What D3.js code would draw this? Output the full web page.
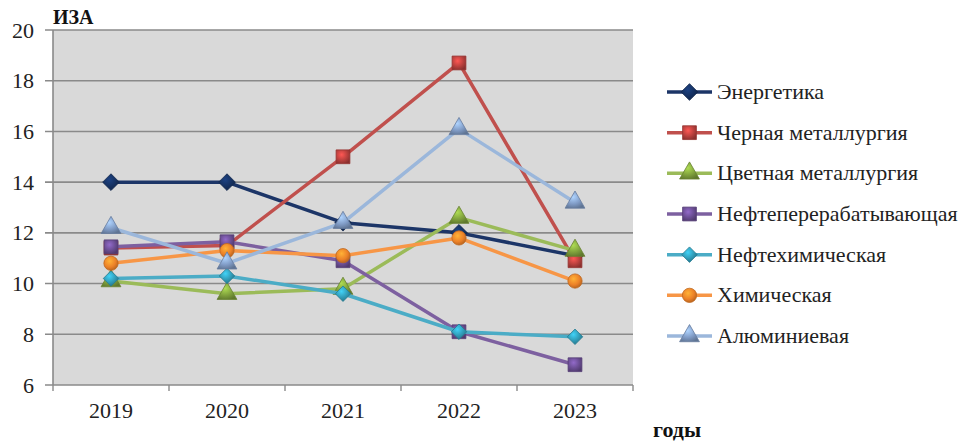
<!DOCTYPE html>
<html>
<head>
<meta charset="utf-8">
<script src="https://cdn.jsdelivr.net/npm/d3@7/dist/d3.min.js"></script>
<style>
  html, body { margin: 0; padding: 0; background: #fff; }
  svg { display: block; }
  svg text { font-family: "Liberation Serif", "Times New Roman", "DejaVu Serif", serif; }
</style>
</head>
<body>
<svg id="chart" width="964" height="441"></svg>
<script>
// Years on the horizontal axis
const years = ["2019", "2020", "2021", "2022", "2023"];
// Y-axis ticks
const yTicks = [6, 8, 10, 12, 14, 16, 18, 20];

// Series names (legend order)
const seriesNames = [
  "Энергетика",
  "Черная металлургия",
  "Цветная металлургия",
  "Нефтеперерабатывающая",
  "Нефтехимическая",
  "Химическая",
  "Алюминиевая"
];

// Series values per year
const energetika   = [14.0, 14.0, 12.4, 12.0, 11.1];
const chernaya     = [11.4, 11.5, 15.0, 18.7, 10.9];
const tsvetnaya    = [10.1, 9.6, 9.8, 12.6, 11.3];
const neftepererab = [11.45, 11.65, 10.9, 8.1, 6.8];
const neftekhim    = [10.2, 10.3, 9.6, 8.1, 7.9];
const khimicheskaya = [10.8, 11.3, 11.1, 11.8, 10.1];
const alyuminievaya = [12.2, 10.8, 12.4, 16.1, 13.2];

const seriesValues = [energetika, chernaya, tsvetnaya, neftepererab, neftekhim, khimicheskaya, alyuminievaya];

const FONT = '"Liberation Serif", "Times New Roman", "DejaVu Serif", serif';

// Styling per series
const lineColors   = ["#1c3567", "#c0504d", "#9bbb59", "#7d60a0", "#4bacc6", "#f79646", "#9bb7db"];
const markerColors = ["#15305f", "#b8403d", "#7fa03c", "#6a4d92", "#2f98b3", "#ec8128", "#7f9ac4"];

// Rotated square (equal width/height diamond)
const diamondSq = {
  draw(ctx, size) {
    const r = Math.sqrt(size / 2);
    ctx.moveTo(0, -r); ctx.lineTo(r, 0); ctx.lineTo(0, r); ctx.lineTo(-r, 0); ctx.closePath();
  }
};
const markerShapes = [diamondSq, d3.symbolSquare, d3.symbolTriangle, d3.symbolSquare, diamondSq, d3.symbolCircle, d3.symbolTriangle];
const markerSizes  = [140, 190, 170, 190, 120, 160, 170];

const svg = d3.select("#chart");
const margin = { left: 53, top: 30, right: 331, bottom: 56 };
const W = 964, H = 441;
const plotW = W - margin.left - margin.right;
const plotH = H - margin.top - margin.bottom;

const x = d3.scaleBand().domain(years).range([margin.left, margin.left + plotW]);
const y = d3.scaleLinear().domain([6, 20]).range([margin.top + plotH, margin.top]);

// Gradients for the shaded markers
const defs = svg.append("defs");
markerColors.forEach((c, i) => {
  const g = defs.append("radialGradient").attr("id", "mg" + i)
    .attr("cx", "40%").attr("cy", "35%").attr("r", "70%");
  g.append("stop").attr("offset", "0%").attr("stop-color", d3.color(c).brighter(0.9));
  g.append("stop").attr("offset", "60%").attr("stop-color", c);
  g.append("stop").attr("offset", "100%").attr("stop-color", d3.color(c).darker(0.8));
});

// Plot background
svg.append("rect")
  .attr("x", margin.left).attr("y", margin.top)
  .attr("width", plotW).attr("height", plotH)
  .attr("fill", "#d9d9d9");

// Horizontal gridlines with left ticks
svg.append("g").selectAll("line").data(yTicks).join("line")
  .attr("x1", margin.left - 8).attr("x2", margin.left + plotW)
  .attr("y1", d => y(d)).attr("y2", d => y(d))
  .attr("stroke", "#8a8a8a").attr("stroke-width", 1.6);

// Y tick labels
svg.append("g").selectAll("text").data(yTicks).join("text")
  .attr("x", 34).attr("y", d => y(d) + 7.5)
  .attr("text-anchor", "end")
  .attr("font-family", FONT)
  .attr("font-size", 22).attr("fill", "#222")
  .text(d => d);

// Axis line
svg.append("line")
  .attr("x1", margin.left).attr("x2", margin.left)
  .attr("y1", margin.top).attr("y2", margin.top + plotH)
  .attr("stroke", "#8a8a8a").attr("stroke-width", 1.6);

// Category boundary ticks under the x axis
const bounds = years.map(d => x(d)).concat([x(years[years.length - 1]) + x.bandwidth()]);
svg.append("g").selectAll("line").data(bounds).join("line")
  .attr("x1", d => d).attr("x2", d => d)
  .attr("y1", margin.top + plotH).attr("y2", margin.top + plotH + 6)
  .attr("stroke", "#8a8a8a").attr("stroke-width", 1.4);

// X tick labels
svg.append("g").selectAll("text").data(years).join("text")
  .attr("x", d => x(d) + x.bandwidth() / 2).attr("y", 418)
  .attr("text-anchor", "middle")
  .attr("font-family", FONT)
  .attr("font-size", 22).attr("fill", "#222")
  .text(d => d);

// Series lines and markers
const line = d3.line()
  .x((d, i) => x(years[i]) + x.bandwidth() / 2)
  .y(d => y(d));

seriesValues.forEach((vals, i) => {
  const g = svg.append("g");
  g.append("path")
    .attr("d", line(vals))
    .attr("fill", "none")
    .attr("stroke", lineColors[i])
    .attr("stroke-width", 3.5)
    .attr("stroke-linejoin", "round");
  const sym = d3.symbol().type(markerShapes[i]).size(markerSizes[i]);
  g.selectAll("path.m").data(vals).join("path")
    .attr("class", "m")
    .attr("d", sym)
    .attr("transform", (d, k) => `translate(${x(years[k]) + x.bandwidth() / 2},${y(d)})`)
    .attr("fill", `url(#mg${i})`)
    .attr("stroke", d3.color(markerColors[i]).darker(0.6))
    .attr("stroke-width", 0.8);
});

// Axis titles
svg.append("text")
  .attr("x", 53).attr("y", 24)
  .attr("font-family", FONT)
  .attr("font-size", 20).attr("font-weight", "bold").attr("fill", "#111")
  .text("ИЗА");
svg.append("text")
  .attr("x", 653).attr("y", 437)
  .attr("font-family", FONT)
  .attr("font-size", 22).attr("font-weight", "bold").attr("fill", "#111")
  .text("годы");

// Legend
const legendY = d3.scaleLinear().domain([0, seriesNames.length - 1]).range([92, 336]);
const legend = svg.append("g");
seriesNames.forEach((name, i) => {
  const ly = legendY(i);
  legend.append("line")
    .attr("x1", 667).attr("x2", 712)
    .attr("y1", ly).attr("y2", ly)
    .attr("stroke", lineColors[i]).attr("stroke-width", 3.5);
  legend.append("path")
    .attr("d", d3.symbol().type(markerShapes[i]).size(markerSizes[i])())
    .attr("transform", `translate(689.5,${ly})`)
    .attr("fill", `url(#mg${i})`)
    .attr("stroke", d3.color(markerColors[i]).darker(0.6))
    .attr("stroke-width", 0.8);
  legend.append("text")
    .attr("x", 717).attr("y", ly + 7)
    .attr("font-family", FONT)
    .attr("font-size", 22).attr("fill", "#222")
    .text(name);
});
</script>
</body>
</html>
